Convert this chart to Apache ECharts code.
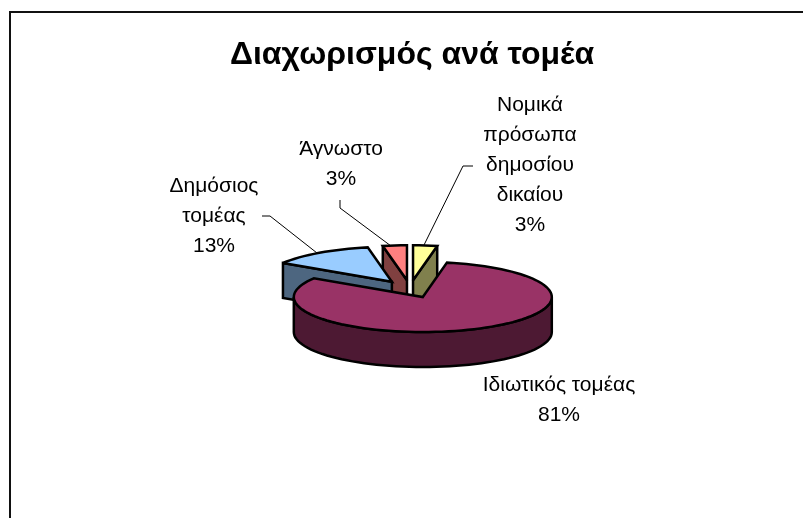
<!DOCTYPE html>
<html>
<head>
<meta charset="utf-8">
<style>
  html, body { margin: 0; padding: 0; background: #fff; }
  #chart { width: 803px; height: 518px; }
</style>
<script src="https://cdn.jsdelivr.net/npm/echarts@6/dist/echarts.min.js"></script>
</head>
<body>
<div id="chart"></div>
<script>
  var titleText = 'Διαχωρισμός ανά τομέα'
  var sectors = ['Ιδιωτικός τομέας', 'Δημόσιος τομέας', 'Άγνωστο', 'Νομικά πρόσωπα δημοσίου δικαίου']
  var shares = [81, 13, 3, 3]
  var topColors = ['#993366', '#99CCFF', '#FF8080', '#FFFF99']
  var sideColors = ['#4D1933', '#4D6680', '#804040', '#80804D']

  // label lines as wrapped in the picture, anchor = centre x, first line y
  var labelLines = [
    ['Ιδιωτικός τομέας'],
    ['Δημόσιος', 'τομέας'],
    ['Άγνωστο'],
    ['Νομικά', 'πρόσωπα', 'δημοσίου', 'δικαίου']
  ]
  var labelAnchors = [[559, 385], [214, 186], [341, 149], [530, 105]]
  var leaders = [
    null,
    [[262, 216], [270, 216], [317, 253]],
    [[340, 200], [340, 208], [391, 246]],
    [[473, 166], [463, 166], [424, 245]]
  ]

  // 3d pie geometry
  var cx = 410, cy = 289, rx = 129, ry = 35, depth = 35, explode = 0.25
  var firstAngle = 10.8

  function sinD(a) { return Math.sin(a * Math.PI / 180) }
  function cosD(a) { return Math.cos(a * Math.PI / 180) }
  function px(a, r) { return r * rx * sinD(a) }
  function py(a, r) { return -r * ry * cosD(a) }

  function arcPoints(ox, oy, a0, a1, dy) {
    var pts = []
    var n = Math.max(2, Math.ceil((a1 - a0) / 3))
    for (var i = 0; i <= n; i++) {
      var a = a0 + (a1 - a0) * i / n
      pts.push([ox + px(a, 1), oy + py(a, 1) + dy])
    }
    return pts
  }

  function poly(points, fill, z2) {
    return {
      type: 'polygon',
      z2: z2,
      shape: { points: points },
      style: { fill: fill, stroke: '#000', lineWidth: 2.5, lineJoin: 'miter', miterLimit: 3 }
    }
  }

  function renderSlice(params, api) {
    var i = params.dataIndex
    var total = shares.reduce(function (s, v) { return s + v }, 0)
    var before = 0
    for (var k = 0; k < i; k++) before += shares[k]
    var a0 = firstAngle + before / total * 360
    var a1 = a0 + api.value(0) / total * 360
    var mid = (a0 + a1) / 2
    var ox = cx + px(mid, explode)
    var oy = cy + py(mid, explode)
    var z = (shares.length - i) * 10
    var children = []

    function cutFace(a) {
      var ex = ox + px(a, 1), ey = oy + py(a, 1)
      children.push(poly([[ox, oy], [ex, ey], [ex, ey + depth], [ox, oy + depth]], sideColors[i], z))
    }
    // only the cut faces turned towards the viewer
    if (sinD(a0) < -0.001) cutFace(a0)
    if (sinD(a1) > 0.001) cutFace(a1)

    // rim, only the front half of the ellipse shows
    var from = Math.max(a0, 90), to = Math.min(a1, 270)
    if (to > from) {
      var rim = arcPoints(ox, oy, from, to, 0).concat(arcPoints(ox, oy, from, to, depth).reverse())
      children.push(poly(rim, sideColors[i], z + 1))
    }

    // top face
    children.push(poly([[ox, oy]].concat(arcPoints(ox, oy, a0, a1, 0)), topColors[i], z + 2))

    // label and leader
    var lines = labelLines[i].concat([api.value(0) + '%'])
    lines.forEach(function (t, n) {
      children.push({
        type: 'text',
        z2: 100,
        style: {
          text: t,
          x: labelAnchors[i][0],
          y: labelAnchors[i][1] + n * 30,
          fill: '#000',
          align: 'center',
          verticalAlign: 'middle',
          font: '21px "Liberation Sans", Arial, sans-serif'
        }
      })
    })
    if (leaders[i]) {
      children.push({
        type: 'polyline',
        z2: 100,
        shape: { points: leaders[i] },
        style: { fill: null, stroke: '#000', lineWidth: 1 }
      })
    }
    return { type: 'group', children: children }
  }

  var myChart = echarts.init(document.getElementById('chart'), null, { renderer: 'canvas' })
  myChart.setOption({
    animation: false,
    backgroundColor: '#fff',
    title: {
      text: titleText,
      left: 407,
      top: 34,
      textAlign: 'center',
      textStyle: {
        fontFamily: '"Liberation Sans", Arial, sans-serif',
        fontSize: 32,
        fontWeight: 'bold',
        color: '#000'
      }
    },
    graphic: [{
      type: 'polyline',
      shape: { points: [[10, 518], [10, 12], [803, 12]] },
      style: { fill: null, stroke: '#111', lineWidth: 2 }
    }],
    series: [{
      type: 'custom',
      coordinateSystem: 'none',
      renderItem: renderSlice,
      data: shares.map(function (v, i) { return { name: sectors[i], value: [v] } })
    }]
  })
</script>
</body>
</html>
